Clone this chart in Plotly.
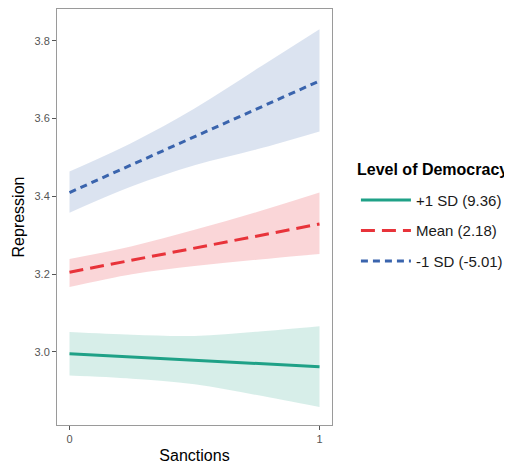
import plotly.graph_objects as go

# Data
line_x = [0, 1]
band_x = [0, 0.25, 0.5, 0.75, 1]

series_names = ["+1 SD (9.36)", "Mean (2.18)", "-1 SD (-5.01)"]

high_line = [2.995, 2.962]
high_upper = [3.051, 3.044, 3.041, 3.052, 3.066]
high_lower = [2.939, 2.931, 2.917, 2.889, 2.858]

mean_line = [3.205, 3.329]
mean_upper = [3.239, 3.272, 3.314, 3.360, 3.410]
mean_lower = [3.167, 3.200, 3.221, 3.237, 3.252]

low_line = [3.410, 3.697]
low_upper = [3.464, 3.538, 3.626, 3.728, 3.830]
low_lower = [3.358, 3.426, 3.480, 3.521, 3.567]

y_ticks = [3.0, 3.2, 3.4, 3.6, 3.8]
x_ticks = [0, 1]

colors = ["#1FA187", "#E8333A", "#3A64AD"]
fills = ["rgba(31,161,135,0.18)", "rgba(232,51,58,0.2)", "rgba(58,100,173,0.18)"]
dashes = ["solid", "14px,7px", "7px,5px"]

lines = [high_line, mean_line, low_line]
uppers = [high_upper, mean_upper, low_upper]
lowers = [high_lower, mean_lower, low_lower]

fig = go.Figure()

# bands (lower edge, then upper edge filled down to it)
for i in range(3):
    fig.add_trace(go.Scatter(
        x=band_x, y=lowers[i], mode="lines",
        line=dict(width=0, shape="spline", smoothing=1),
        showlegend=False, hoverinfo="skip"))
    fig.add_trace(go.Scatter(
        x=band_x, y=uppers[i], mode="lines", fill="tonexty", fillcolor=fills[i],
        line=dict(width=0, shape="spline", smoothing=1),
        showlegend=False, hoverinfo="skip"))

# lines
for i in range(3):
    fig.add_trace(go.Scatter(
        x=line_x, y=lines[i], mode="lines", name=series_names[i],
        legendgroup=f"g{i}",
        line=dict(color=colors[i], width=3, dash=dashes[i])))

# Page body has an 8px margin, so the figure is sized/offset to compensate
fig.update_layout(
    width=504, height=458,
    margin=dict(l=49, r=180, t=1, b=41),
    plot_bgcolor="white", paper_bgcolor="white",
    font=dict(family="Arial, Liberation Sans, sans-serif", color="#000000"),
    legend=dict(
        x=1.087, xanchor="left", y=0.58, yanchor="top",
        font=dict(size=15, color="#1a1a1a"),
        tracegroupgap=8, itemwidth=50,
        bgcolor="rgba(0,0,0,0)"),
    annotations=[dict(
        text="<b>Level of Democracy</b>", xref="paper", yref="paper",
        x=1.084, xanchor="left", y=0.613, yanchor="middle",
        showarrow=False, font=dict(size=16, color="#000"))],
)

fig.update_xaxes(
    range=[-0.05, 1.05], tickvals=x_ticks, ticktext=[str(v) for v in x_ticks],
    showgrid=False, zeroline=False,
    showline=True, mirror=True, linecolor="#9a9a9a", linewidth=1,
    ticks="outside", ticklen=4, tickcolor="#555", tickwidth=1,
    tickfont=dict(size=11, color="#555555"),
    title=dict(text="Sanctions", font=dict(size=16, color="#000"), standoff=5))

fig.update_yaxes(
    range=[2.812, 3.882], tickvals=y_ticks, ticktext=[f"{v:.1f}" for v in y_ticks],
    showgrid=False, zeroline=False,
    showline=True, mirror=True, linecolor="#9a9a9a", linewidth=1,
    ticks="outside", ticklen=4, tickcolor="#555", tickwidth=1,
    tickfont=dict(size=11, color="#555555"),
    title=dict(text="Repression", font=dict(size=16, color="#000"), standoff=5))

fig.write_html("out.html")
